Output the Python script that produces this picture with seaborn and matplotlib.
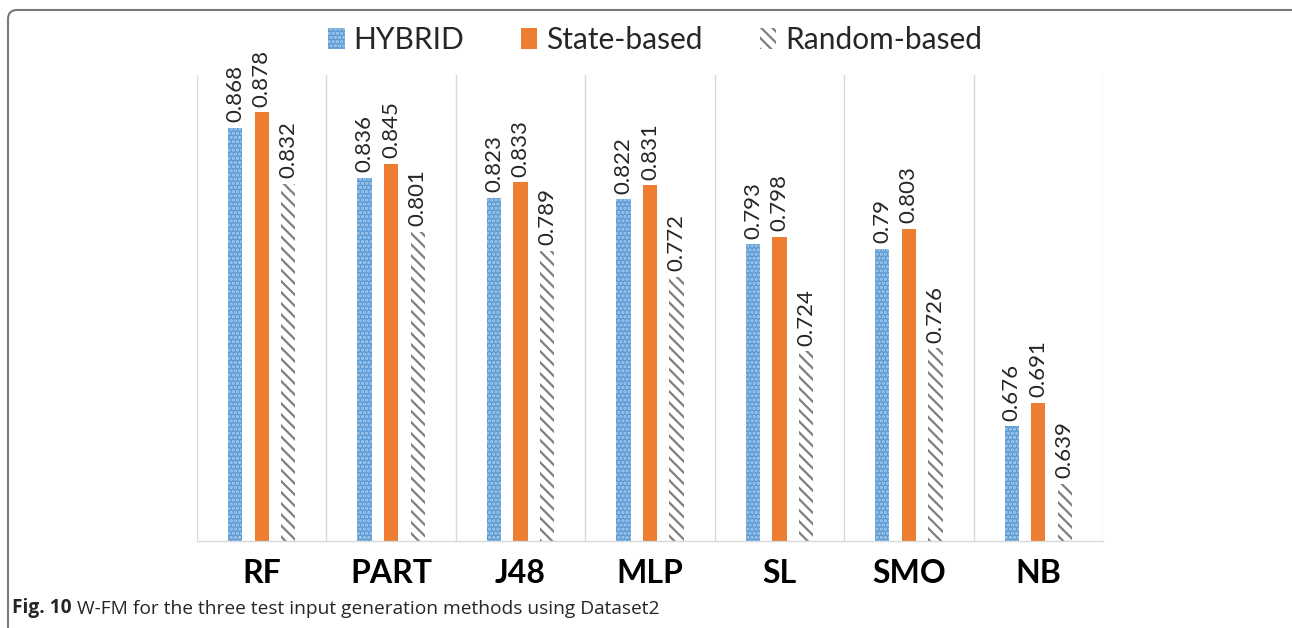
import pandas as pd
import matplotlib.pyplot as plt
import seaborn as sns
from matplotlib.patches import FancyBboxPatch
from matplotlib.transforms import IdentityTransform

# W-FM values per classifier
categories = ['RF', 'PART', 'J48', 'MLP', 'SL', 'SMO', 'NB']
hybrid = [0.868, 0.836, 0.823, 0.822, 0.793, 0.790, 0.676]
state_based = [0.878, 0.845, 0.833, 0.831, 0.798, 0.803, 0.691]
random_based = [0.832, 0.801, 0.789, 0.772, 0.724, 0.726, 0.639]
methods = ['HYBRID', 'State-based', 'Random-based']

df = pd.DataFrame({'Category': categories, 'HYBRID': hybrid,
                   'State-based': state_based, 'Random-based': random_based})
long_df = df.melt(id_vars='Category', var_name='Method', value_name='W-FM')

sns.set_style('white')
plt.rcParams['font.family'] = ['Lato', 'DejaVu Sans']
plt.rcParams['hatch.linewidth'] = 1.6

fig = plt.figure(figsize=(12.92, 6.28), dpi=100)
ax = fig.add_axes([0.1525, 0.1385, 0.7012, 0.7421])

palette = {'HYBRID': '#5B9BD5', 'State-based': '#ED7D31', 'Random-based': '#FFFFFF'}
sns.barplot(data=long_df, x='Category', y='W-FM', hue='Method', hue_order=methods,
            order=categories, palette=palette, width=0.615, gap=0.46,
            saturation=1, ax=ax, legend=False)

styles = {
    'HYBRID': dict(facecolor='#5B9BD5', edgecolor='#A9CBEB', hatch='....'),
    'State-based': dict(facecolor='#ED7D31', edgecolor='#ED7D31', hatch=None),
    'Random-based': dict(facecolor='white', edgecolor='#7F7F7F', hatch='\\\\\\'),
}
for cont, m in zip(ax.containers, methods):
    for p in cont:
        p.set_facecolor(styles[m]['facecolor'])
        p.set_edgecolor(styles[m]['edgecolor'])
        p.set_hatch(styles[m]['hatch'])
        p.set_linewidth(0)
    ax.bar_label(cont, labels=[f'{v:g}' for v in df[m]], rotation=90,
                 padding=4, fontsize=16, color='#262626')

ax.set_ylim(0.602, 0.902)
ax.set_xlim(-0.5, len(categories) - 0.5)
ax.set_yticks([])
ax.set_xlabel('')
ax.set_ylabel('')
ax.set_xticks([i - 0.5 for i in range(len(categories) + 1)], minor=True)
ax.grid(True, which='minor', axis='x', color='#D9D9D9', linewidth=1)
ax.tick_params(axis='x', which='both', length=0, pad=13)
for lab in ax.get_xticklabels():
    lab.set_fontsize(23)
    lab.set_fontweight('bold')
    lab.set_color('black')
for s in ['top', 'left', 'right']:
    ax.spines[s].set_visible(False)
ax.spines['bottom'].set_color('#D9D9D9')
ax.spines['bottom'].set_linewidth(1)

handles = [cont[0] for cont in ax.containers]
fig.legend(handles, methods, loc='center', bbox_to_anchor=(0.507, 1 - 40 / 628),
           ncol=3, frameon=False, fontsize=21.5, handlelength=0.55, handleheight=0.7,
           handletextpad=0.3, columnspacing=1.9, labelcolor='#262626')

# frame and caption
frame = FancyBboxPatch((8, -100), 1400, 718, boxstyle='round,pad=0,rounding_size=9',
                       transform=IdentityTransform(), facecolor='none',
                       edgecolor='#7A7A7A', linewidth=1.5)
fig.add_artist(frame)

t1 = fig.text(12 / 1292, 1 - 608 / 628, 'Fig. 10', fontsize=13.8, fontweight='bold',
              va='center', ha='left', family=['Open Sans', 'DejaVu Sans'])
ax.annotate(' W-FM for the three test input generation methods using Dataset2',
            xy=(1, 0), xycoords=t1, va='bottom', ha='left', fontsize=13.8,
            family=['Open Sans', 'DejaVu Sans'], annotation_clip=False)

fig.savefig('out.png', dpi=100)
